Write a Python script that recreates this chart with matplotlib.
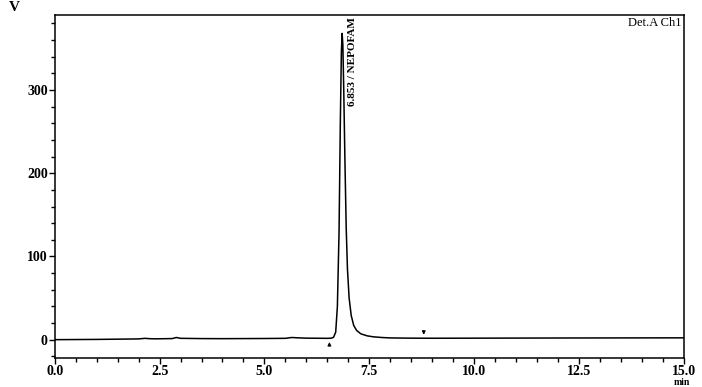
import numpy as np
import matplotlib
matplotlib.use("Agg")
import matplotlib.pyplot as plt
from matplotlib.ticker import MultipleLocator

# chromatogram trace (min, mV)
time = [0.0, 1.0, 2.0, 2.15, 2.25, 2.4, 2.8, 2.9, 3.0, 3.5, 4.0, 5.0, 5.5, 5.65, 5.8, 6.0,
        6.5, 6.6, 6.65, 6.70, 6.74, 6.78, 6.81, 6.835, 6.853, 6.87, 6.89, 6.92, 6.95,
        6.98, 7.02, 7.07, 7.13, 7.2, 7.3, 7.45, 7.6, 7.8, 8.0, 8.5, 9.0, 10.0, 12.0, 15.0]
signal = [0.0, 0.3, 0.9, 1.6, 1.2, 1.0, 1.3, 2.6, 1.6, 1.3, 1.2, 1.4, 1.6, 2.6, 2.2, 1.8,
          1.6, 1.8, 3.0, 9.0, 40.0, 130.0, 260.0, 345.0, 368.0, 355.0, 305.0, 215.0, 135.0,
          85.0, 50.0, 29.0, 17.0, 11.0, 7.0, 4.6, 3.4, 2.6, 2.1, 1.8, 1.7, 1.8, 2.0, 2.2]

peak_rt = 6.853
peak_name = "NEPOFAM"
start_mark = 6.55
end_mark = 8.8

plt.rcParams["font.family"] = ["Liberation Serif", "DejaVu Serif"]

fig = plt.figure(figsize=(7.02, 3.87), dpi=100)
ax = fig.add_axes([0.078, 0.075, 0.896, 0.886])

ax.plot(time, signal, color="black", lw=1.1)

# integration markers
ax.annotate("", xy=(start_mark, 0.5), xytext=(start_mark, -10),
            arrowprops=dict(arrowstyle="-|>", color="black", lw=0.8, mutation_scale=5))
ax.annotate("", xy=(end_mark, 2.5), xytext=(end_mark, 14),
            arrowprops=dict(arrowstyle="-|>", color="black", lw=0.8, mutation_scale=5))

ax.text(7.1, 387, f"{peak_rt:.3f} / {peak_name}", rotation=90, ha="center", va="top",
        fontsize=8, fontweight="bold")
ax.text(0.997, 0.993, "Det.A Ch1", transform=ax.transAxes, ha="right", va="top",
        fontsize=9)

ax.set_xlim(0, 15)
ax.set_ylim(-22, 390)
ax.xaxis.set_major_locator(MultipleLocator(2.5))
ax.xaxis.set_minor_locator(MultipleLocator(0.5))
ax.yaxis.set_major_locator(MultipleLocator(100))
ax.yaxis.set_minor_locator(MultipleLocator(20))
ax.set_xticks([0, 2.5, 5, 7.5, 10, 12.5, 15])
ax.set_xticklabels(["0.0", "2.5", "5.0", "7.5", "10.0", "12.5", "15.0"])
ax.tick_params(axis="both", which="major", length=4, width=1, direction="out",
               labelsize=10, pad=1)
ax.tick_params(axis="both", which="minor", length=3, width=1, direction="out")
for lbl in ax.get_xticklabels() + ax.get_yticklabels():
    lbl.set_fontweight("bold")
for s in ax.spines.values():
    s.set_linewidth(1.1)

fig.text(0.012, 0.965, "V", fontsize=11, fontweight="bold", ha="left", va="bottom")
fig.text(0.972, 0.0, "min", fontsize=7, fontweight="bold", ha="center", va="bottom")

fig.savefig("out.png", dpi=100)
